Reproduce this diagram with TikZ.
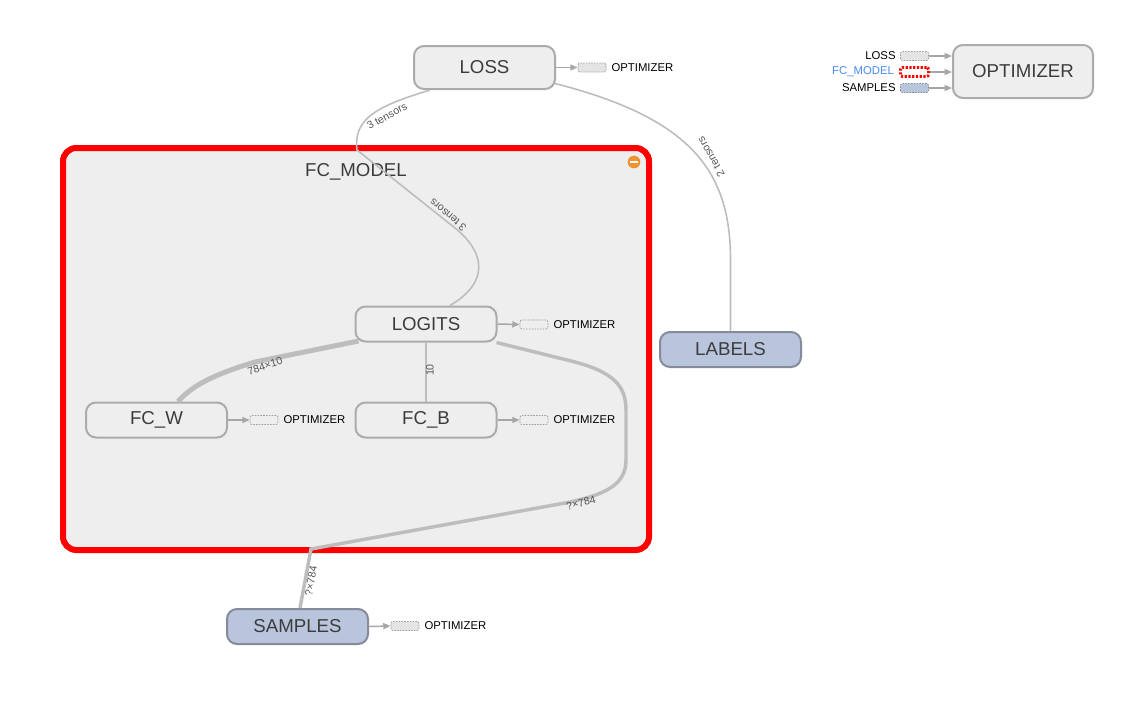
\documentclass[tikz,border=0pt]{standalone}
\usepackage{fontspec}
\setmainfont{Liberation Sans}
\usetikzlibrary{arrows.meta,positioning,calc}

\definecolor{opfill}{HTML}{EEEEEE}
\definecolor{opline}{HTML}{ABABAB}
\definecolor{infill}{HTML}{B9C4DD}
\definecolor{inline}{HTML}{858B98}
\definecolor{clusterfill}{HTML}{EEEEEE}
\definecolor{nodetext}{HTML}{3C3C3C}
\definecolor{edgegray}{HTML}{BDBDBD}
\definecolor{arrowgray}{HTML}{A6A6A6}
\definecolor{labelgray}{HTML}{555555}
\definecolor{stubline}{HTML}{9E9E9E}
\definecolor{stubfill}{HTML}{E4E4E4}
\definecolor{fcblue}{HTML}{4A8AF4}
\definecolor{minusorange}{HTML}{F0922E}

\tikzset{every picture/.style={line width=0.75pt}}
\tikzset{
  opnode/.style={draw=opline, fill=opfill, line width=1.5pt, rounded corners=7.5pt,
    minimum width=105.75pt, minimum height=26.25pt, inner sep=0pt, text=nodetext,
    font=\fontsize{14}{16}\selectfont},
  innode/.style={opnode, draw=inline, fill=infill},
  cluster/.style={draw=red, fill=clusterfill, line width=4.5pt, rounded corners=10pt,
    minimum width=439.5pt, minimum height=301.5pt, inner sep=0pt},
  stubbox/.style={draw=stubline, dash pattern=on 1.2pt off 0.9pt, line width=0.6pt,
    rounded corners=1.5pt, minimum width=21pt, minimum height=6.75pt, inner sep=0pt},
  stublabel/.style={font=\fontsize{8.5}{10}\selectfont, text=black, inner sep=0pt},
  stubarrow/.style={draw=arrowgray, line width=1.1pt, -{Triangle[length=5.5pt,width=4.5pt]}},
  dataedge/.style={draw=edgegray, line width=1.2pt},
  edgelabel/.style={font=\fontsize{8}{9}\selectfont, text=labelgray, inner sep=0pt},
}

\begin{document}
\begin{tikzpicture}[x=0.75pt,y=0.75pt,yscale=-1,xscale=1]
	\useasboundingbox (0,0) rectangle (1135,707);

	%Cluster: FC_MODEL
	\node[cluster] (fcmodel) at (356,349) {};
	\node[font=\fontsize{14}{16}\selectfont, text=nodetext] (fcmodeltitle) at (356,172) {FC\_MODEL};
	\node[circle, fill=minusorange, minimum size=9.5pt, inner sep=0pt] (collapse) at (634,162) {};
	\draw[white, line width=1.6pt] ($(collapse.center)+(-4.2,0)$) -- ($(collapse.center)+(4.2,0)$);

	%Op nodes
	\node[opnode, minimum height=32.25pt] (loss) at (484.5,67.5) {LOSS};
	\node[opnode] (logits) at (426,324) {LOGITS};
	\node[opnode] (fcw) at (156.5,420) {FC\_W};
	\node[opnode] (fcb) at (426,420) {FC\_B};
	\node[innode] (labels) at (730.5,349.5) {LABELS};
	\node[innode] (samples) at (297.5,626.5) {SAMPLES};
	\node[opnode, minimum width=105pt, minimum height=39.75pt] (optimizer) at (1023,71.5) {OPTIMIZER};

	%Data edges
	\draw[dataedge] ($(loss.south)+(-54.5,0)$) .. controls (378,106) and (353,118) .. (357,150)
		-- (455,228) .. controls (485,252) and (490,282) .. ($(logits.north)+(24,0)$);
	\draw[dataedge] ($(loss.east)+(-1,16)$) .. controls (690,118) and (730.5,170) .. (730.5,260) -- (labels.north);
	\draw[dataedge, line width=3.75pt] ($(fcw.north)+(21.5,0)$) .. controls (192,386) and (212,375) .. (255,362)
		-- ($(logits.south west)+(4,-1.5)$);
	\draw[dataedge] (fcb.north) -- (logits.south);
	\draw[dataedge, line width=2.6pt] ($(samples.north)+(2.5,0)$) -- (311,549) -- (565,503)
		.. controls (605,495) and (626,485) .. (626,460) -- (626,410)
		.. controls (626,385) and (612,372) .. (575,362) -- ($(logits.south east)+(-1,0)$);

	% Text Node
	\node[edgelabel, rotate=29] (lossedgeouter) at (387,116) {3 tensors};
	% Text Node
	\node[edgelabel, rotate=140] (lossedgeinner) at (448,215) {3 tensors};
	% Text Node
	\node[edgelabel, rotate=120] (labelsedge) at (711,157) {2 tensors};
	% Text Node
	\node[edgelabel, rotate=18] (fcwedge) at (265,366) {784×10};
	% Text Node
	\node[edgelabel, rotate=90] (fcbedge) at (430,370) {10};
	% Text Node
	\node[edgelabel, rotate=15] (samplesedgeinner) at (581,503) {?×784};
	% Text Node
	\node[edgelabel, rotate=80] (samplesedgeouter) at (311,581) {?×784};

	%Optimizer stubs
	\node[stubbox, fill=stubfill] (lossstub) at (592,67.5) {};
	\node[stublabel, right=3.5pt of lossstub] (lossstublabel) {OPTIMIZER};
	\draw[stubarrow] (loss.east) -- (lossstub.west);

	\node[stubbox] (logitsstub) at (534,324.5) {};
	\node[stublabel, right=3.5pt of logitsstub] (logitsstublabel) {OPTIMIZER};
	\draw[stubarrow] (logits.east) -- (logitsstub.west);

	\node[stubbox] (fcwstub) at (264,420) {};
	\node[stublabel, right=3.5pt of fcwstub] (fcwstublabel) {OPTIMIZER};
	\draw[stubarrow] (fcw.east) -- (fcwstub.west);

	\node[stubbox] (fcbstub) at (534,420) {};
	\node[stublabel, right=3.5pt of fcbstub] (fcbstublabel) {OPTIMIZER};
	\draw[stubarrow] (fcb.east) -- (fcbstub.west);

	\node[stubbox, fill=stubfill] (samplesstub) at (405,626) {};
	\node[stublabel, right=3.5pt of samplesstub] (samplesstublabel) {OPTIMIZER};
	\draw[stubarrow] (samples.east) -- (samplesstub.west);

	%Optimizer inputs
	\node[stubbox, fill=stubfill] (lossin) at (914.5,56) {};
	\node[stublabel, left=3pt of lossin] (lossinlabel) {LOSS};
	\draw[stubarrow] (lossin.east) -- (lossin.east -| optimizer.west);

	\node[stubbox, draw=red, line width=2.2pt, dash pattern=on 1.6pt off 1.2pt, fill=white] (fcmodelin) at (914.5,72) {};
	\node[stublabel, left=3.5pt of fcmodelin, text=fcblue] (fcmodelinlabel) {FC\_MODEL};
	\draw[stubarrow] (fcmodelin.east) -- (fcmodelin.east -| optimizer.west);

	\node[stubbox, fill=infill, draw=inline] (samplesin) at (914.5,88) {};
	\node[stublabel, left=3pt of samplesin] (samplesinlabel) {SAMPLES};
	\draw[stubarrow] (samplesin.east) -- (samplesin.east -| optimizer.west);

\end{tikzpicture}
\end{document}
